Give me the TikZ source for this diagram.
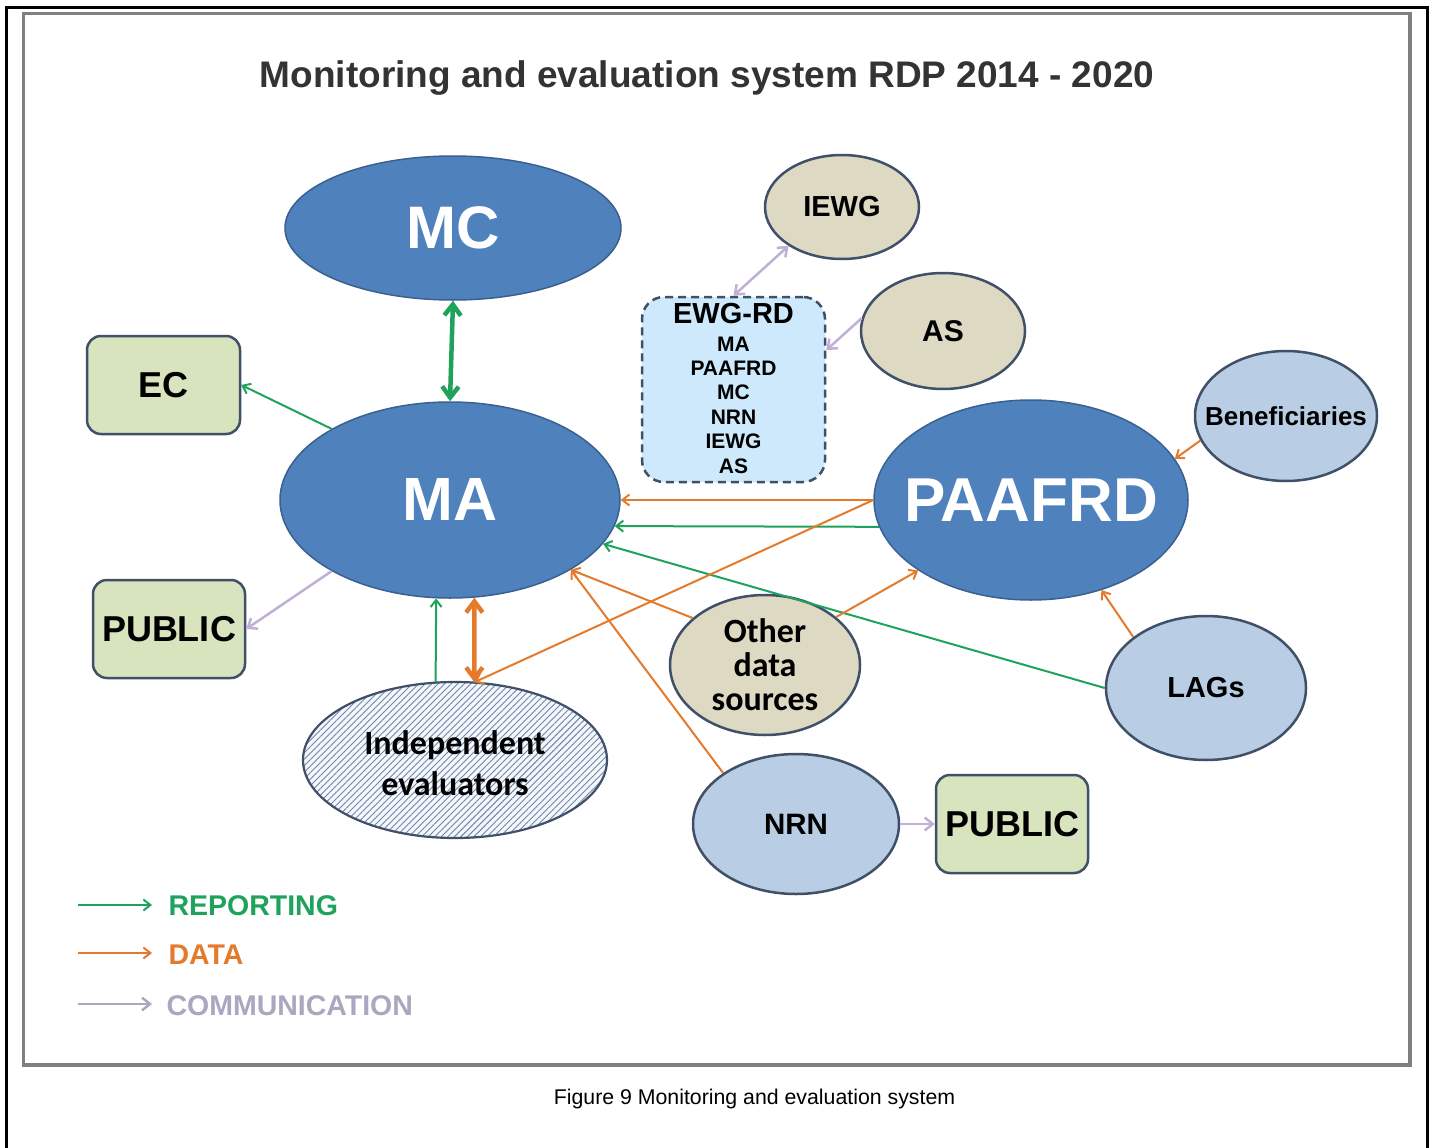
\documentclass[tikz,border=0pt]{standalone}
\usepackage{fontspec}
\setmainfont{Liberation Sans}
\newfontfamily\calib{Carlito}
\usetikzlibrary{shapes.geometric,arrows.meta,patterns.meta}
\definecolor{dkblue}{HTML}{4F81BD}
\definecolor{dkblueb}{HTML}{3A6090}
\definecolor{tanfill}{HTML}{DDD9C3}
\definecolor{ltblue}{HTML}{B9CDE5}
\definecolor{ltgreen}{HTML}{D7E4BD}
\definecolor{slate}{HTML}{405068}
\definecolor{repgreen}{HTML}{1FA35C}
\definecolor{datorange}{HTML}{E47B2C}
\definecolor{comlav}{HTML}{C0B0D6}
\definecolor{comtext}{HTML}{ADA6C0}
\definecolor{ewgfill}{HTML}{CDE9FB}
\definecolor{titlegray}{HTML}{333333}
\definecolor{framegray}{HTML}{808080}
\definecolor{hatchcol}{HTML}{6F86A6}
\definecolor{hatchbg}{HTML}{F4F7FB}
\begin{document}
\begin{tikzpicture}[x=1pt,y=-1pt,
  bigell/.style={ellipse, fill=dkblue, draw=dkblueb, line width=1.5pt, text=white, inner sep=0pt},
  smallell/.style={ellipse, draw=slate, line width=2.5pt, inner sep=0pt},
  tannode/.style={smallell, fill=tanfill},
  bluenode/.style={smallell, fill=ltblue},
  boxnode/.style={rectangle, rounded corners=14pt, fill=ltgreen, draw=slate, line width=2.5pt,
     minimum width=153pt, minimum height=98pt, inner sep=0pt, font=\bfseries\fontsize{36}{40}\selectfont},
  rep/.style={draw=repgreen, line width=2pt, -{Straight Barb[length=3pt 2, width=4pt 3.5]}},
  repboth/.style={draw=repgreen, line width=4.5pt, {Straight Barb[length=2pt 2, width=3pt 3]}-{Straight Barb[length=2pt 2, width=3pt 3]}},
  dat/.style={draw=datorange, line width=2pt, -{Straight Barb[length=3pt 2, width=4pt 3.5]}},
  datboth/.style={draw=datorange, line width=4.5pt, {Straight Barb[length=2pt 2, width=3pt 3]}-{Straight Barb[length=2pt 2, width=3pt 3]}},
  com/.style={draw=comlav, line width=2.5pt, -{Straight Barb[length=3pt 2, width=4pt 3.5]}},
  comboth/.style={draw=comlav, line width=2.5pt, {Straight Barb[length=3pt 2, width=4pt 3.5]}-{Straight Barb[length=3pt 2, width=4pt 3.5]}},
  legtext/.style={anchor=base west, font=\bfseries\fontsize{28.5}{30}\selectfont}
]
\useasboundingbox (0,0) rectangle (1430,1148);
\fill[white] (0,0) rectangle (1430,1148);
% frames
\draw[line width=3pt] (6,1148) -- (6,8) -- (1427,8) -- (1427,1148);
\draw[framegray, line width=3.5pt] (23.5,13.5) rectangle (1410,1065);

% title and caption
\node[anchor=base, text=titlegray, font=\bfseries\fontsize{37}{40}\selectfont] (title) at (707,88)
  {Monitoring and evaluation system RDP 2014 - 2020};
\node[anchor=base, font=\fontsize{21.3}{24}\selectfont] (caption) at (754.5,1104)
  {Figure 9 Monitoring and evaluation system};

% main nodes
\node[bigell, minimum width=336pt, minimum height=144pt, font=\bfseries\fontsize{60}{60}\selectfont] (MC) at (453,228) {\makebox[0pt]{MC}};
\node[bigell, minimum width=340pt, minimum height=196pt, font=\bfseries\fontsize{61}{61}\selectfont] (MA) at (450,500) {\makebox[0pt]{MA}};
\node[bigell, minimum width=314pt, minimum height=200pt, font=\bfseries\fontsize{62}{62}\selectfont] (PA) at (1031,500) {\makebox[0pt]{PAAFRD}};

\node[boxnode] (EC) at (163.5,385) {EC};
\node[boxnode, minimum width=152pt] (PubL) at (169,629) {PUBLIC};
\node[boxnode, minimum width=152pt] (PubR) at (1012,824) {PUBLIC};

\node[tannode, minimum width=154pt, minimum height=104pt, font=\bfseries\fontsize{29}{30}\selectfont] (IEWG) at (842,207) {\makebox[0pt]{IEWG}};
\node[tannode, minimum width=164pt, minimum height=116pt, font=\bfseries\fontsize{30}{30}\selectfont] (AS) at (943,331) {\makebox[0pt]{AS}};
\node[bluenode, minimum width=182pt, minimum height=130pt, font=\bfseries\fontsize{26}{28}\selectfont] (Ben) at (1286,416) {\makebox[0pt]{Beneficiaries}};
\node[tannode, minimum width=190pt, minimum height=140pt,
      label={[align=center, font=\calib\bfseries\fontsize{34}{34}\selectfont]center:Other\\data\\sources}] (ODS) at (765,665) {};
\node[bluenode, minimum width=200pt, minimum height=144pt, font=\bfseries\fontsize{29}{30}\selectfont] (LAGs) at (1206,688) {\makebox[0pt]{LAGs}};
\node[bluenode, minimum width=206pt, minimum height=140pt, font=\bfseries\fontsize{29.5}{30}\selectfont] (NRN) at (796,824) {\makebox[0pt]{NRN}};
\node[ellipse, draw=slate, line width=2.2pt, inner sep=0pt, preaction={fill=hatchbg},
      pattern={Lines[angle=45,distance=4.6pt,line width=0.9pt]}, pattern color=hatchcol,
      minimum width=304pt, minimum height=156pt,
      label={[align=center, font=\calib\bfseries\fontsize{34}{41}\selectfont, yshift=-3pt]center:Independent\\evaluators}] (IE) at (455,760) {};

% EWG-RD box
\node[rectangle, rounded corners=22pt, fill=ewgfill, draw=slate, line width=2.5pt, dash pattern=on 8pt off 5pt,
      minimum width=183pt, minimum height=185pt, inner sep=0pt] (EWG) at (733.5,389.5) {};
\node[font=\bfseries\fontsize{29}{30}\selectfont] (EWGt) at (733.5,314) {EWG-RD};
\node[align=center, font=\bfseries\fontsize{21}{24.4}\selectfont] (EWGl) at (733.5,405) {MA\\PAAFRD\\MC\\NRN\\IEWG\\AS};

% reporting connectors
\draw[repboth] (MC.south) -- (MA.north);
\draw[rep] (MA.149) -- (EC.east);
\draw[rep] (PA.190) -- (MA.351);
\draw[rep] (LAGs.west) -- (MA.344);
\draw[rep] (IE.104) -- (MA.262);

% data connectors
\draw[dat] (PA.west) -- (MA.east);
\draw[dat] (PA.west) -- (IE.76);
\draw[datboth] (MA.284) -- (IE.76);
\draw[dat] (ODS.147) -- (MA.330);
\draw[dat] (NRN.145) -- (MA.330);
\draw[dat] (ODS.34) -- (PA.212);
\draw[dat] (Ben.196) -- (PA.16);
\draw[dat] (LAGs.145) -- (PA.308);

% communication connectors
\draw[comboth] (EWG.north) -- (IEWG.216);
\draw[com] (AS.171) -- (EWG.23);
\draw[com] (MA.211) -- (PubL.east);
\draw[com] (NRN.east) -- (PubR.west);

% legend
\coordinate (r1) at (78,905); \coordinate (r2) at (152,905);
\coordinate (d1) at (78,953); \coordinate (d2) at (152,953);
\coordinate (c1) at (78,1004); \coordinate (c2) at (152,1004);
\draw[rep] (r1) -- (r2);
\draw[dat] (d1) -- (d2);
\draw[com, draw=comtext] (c1) -- (c2);
\node[legtext, text=repgreen] (lrep) at (165,915) {REPORTING};
\node[legtext, text=datorange] (ldat) at (165,964) {DATA};
\node[legtext, text=comtext] (lcom) at (163,1015) {COMMUNICATION};
\end{tikzpicture}
\end{document}
